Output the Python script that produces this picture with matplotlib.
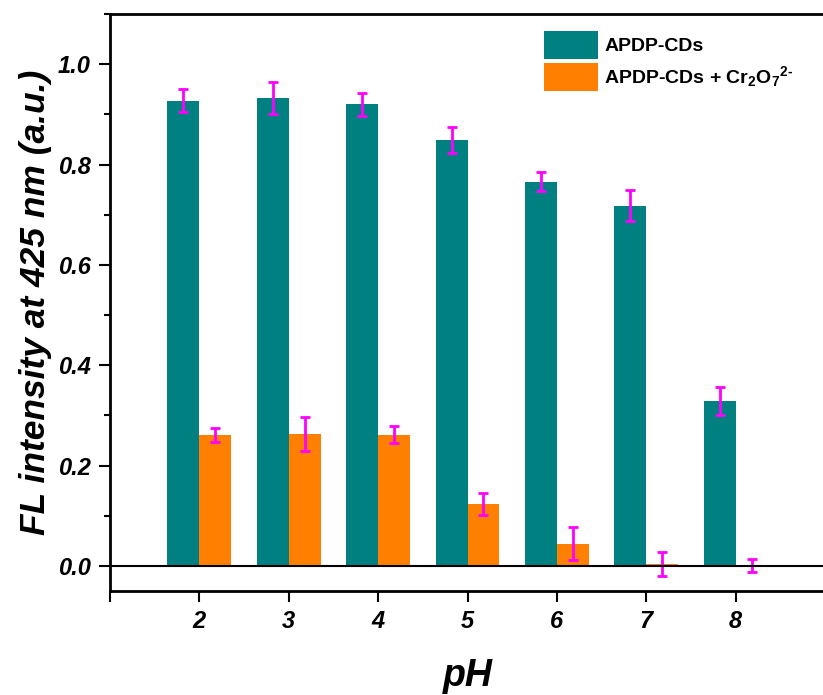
import matplotlib
matplotlib.use("Agg")
import matplotlib.pyplot as plt
import numpy as np
from matplotlib.ticker import MultipleLocator, FormatStrFormatter

plt.rcParams['font.family'] = ['Liberation Sans', 'DejaVu Sans']
plt.rcParams['mathtext.fontset'] = 'custom'
plt.rcParams['mathtext.rm'] = 'Liberation Sans:bold'
plt.rcParams['mathtext.it'] = 'Liberation Sans:bold:italic'
plt.rcParams['mathtext.bf'] = 'Liberation Sans:bold'
plt.rcParams['mathtext.default'] = 'rm'

ph = [2, 3, 4, 5, 6, 7, 8]
cds = [0.927, 0.932, 0.920, 0.848, 0.766, 0.718, 0.328]
cds_err = [0.023, 0.032, 0.0235, 0.026, 0.0195, 0.031, 0.028]
cds_cr = [0.261, 0.263, 0.261, 0.1225, 0.044, 0.003, 0.001]
cds_cr_err = [0.014, 0.034, 0.017, 0.022, 0.033, 0.024, 0.0135]

labels = ['APDP-CDs', 'APDP-CDs + Cr$_{2}$O$_{7}$$^{2\u2010}$']

fig = plt.figure(figsize=(8.23, 6.95), dpi=100)
ax = fig.add_axes([110/823, 1 - 591/695, 715/823, (591 - 14)/695])

x = np.array(ph, dtype=float)
w = 0.357
teal = '#008080'
orange = '#FF8000'
mag = '#FF00FF'

ax.bar(x - w/2, cds, width=w, color=teal, label=labels[0], zorder=2)
ax.bar(x + w/2, cds_cr, width=w, color=orange, label=labels[1], zorder=2)
ekw = dict(fmt='none', ecolor=mag, elinewidth=2, capsize=3.5, capthick=2, zorder=3)
ax.errorbar(x - w/2, cds, yerr=cds_err, **ekw)
ax.errorbar(x + w/2, cds_cr, yerr=cds_cr_err, **ekw)

ax.axhline(0, color='black', lw=1.5, zorder=4)

ax.set_xlim(1, 9)
ax.set_ylim(-0.05, 1.1)
ax.set_xticks(range(1, 10))
ax.set_xticklabels([''] + [str(p) for p in ph] + [''])
ax.yaxis.set_minor_locator(MultipleLocator(0.1))
ax.set_yticks([0.0, 0.2, 0.4, 0.6, 0.8, 1.0])
ax.yaxis.set_major_formatter(FormatStrFormatter('%.1f'))

for s in ax.spines.values():
    s.set_linewidth(2)

ax.tick_params(axis='both', which='major', direction='out', length=8, width=1.5, pad=5)
ax.tick_params(axis='y', which='minor', direction='out', length=4.5, width=1.5)
for lab in ax.get_yticklabels() + ax.get_xticklabels():
    lab.set_fontsize(17)
    lab.set_fontweight('bold')
    lab.set_fontstyle('italic')
ax.tick_params(axis='x', pad=6)
ax.tick_params(axis='y', pad=6)

ax.set_ylabel('FL intensity at 425 nm (a.u.)', fontsize=25.5, fontweight='bold', fontstyle='italic', labelpad=4)
ax.set_xlabel('pH', fontsize=27, fontweight='bold', fontstyle='italic', labelpad=18)

leg = ax.legend(loc='upper right', bbox_to_anchor=(0.972, 0.99), frameon=False,
                prop={'size': 14, 'weight': 'bold'}, handlelength=2.8, handleheight=1.8,
                handletextpad=0.3, labelspacing=0.22, borderaxespad=0.2)

fig.savefig('out.png', dpi=100)
